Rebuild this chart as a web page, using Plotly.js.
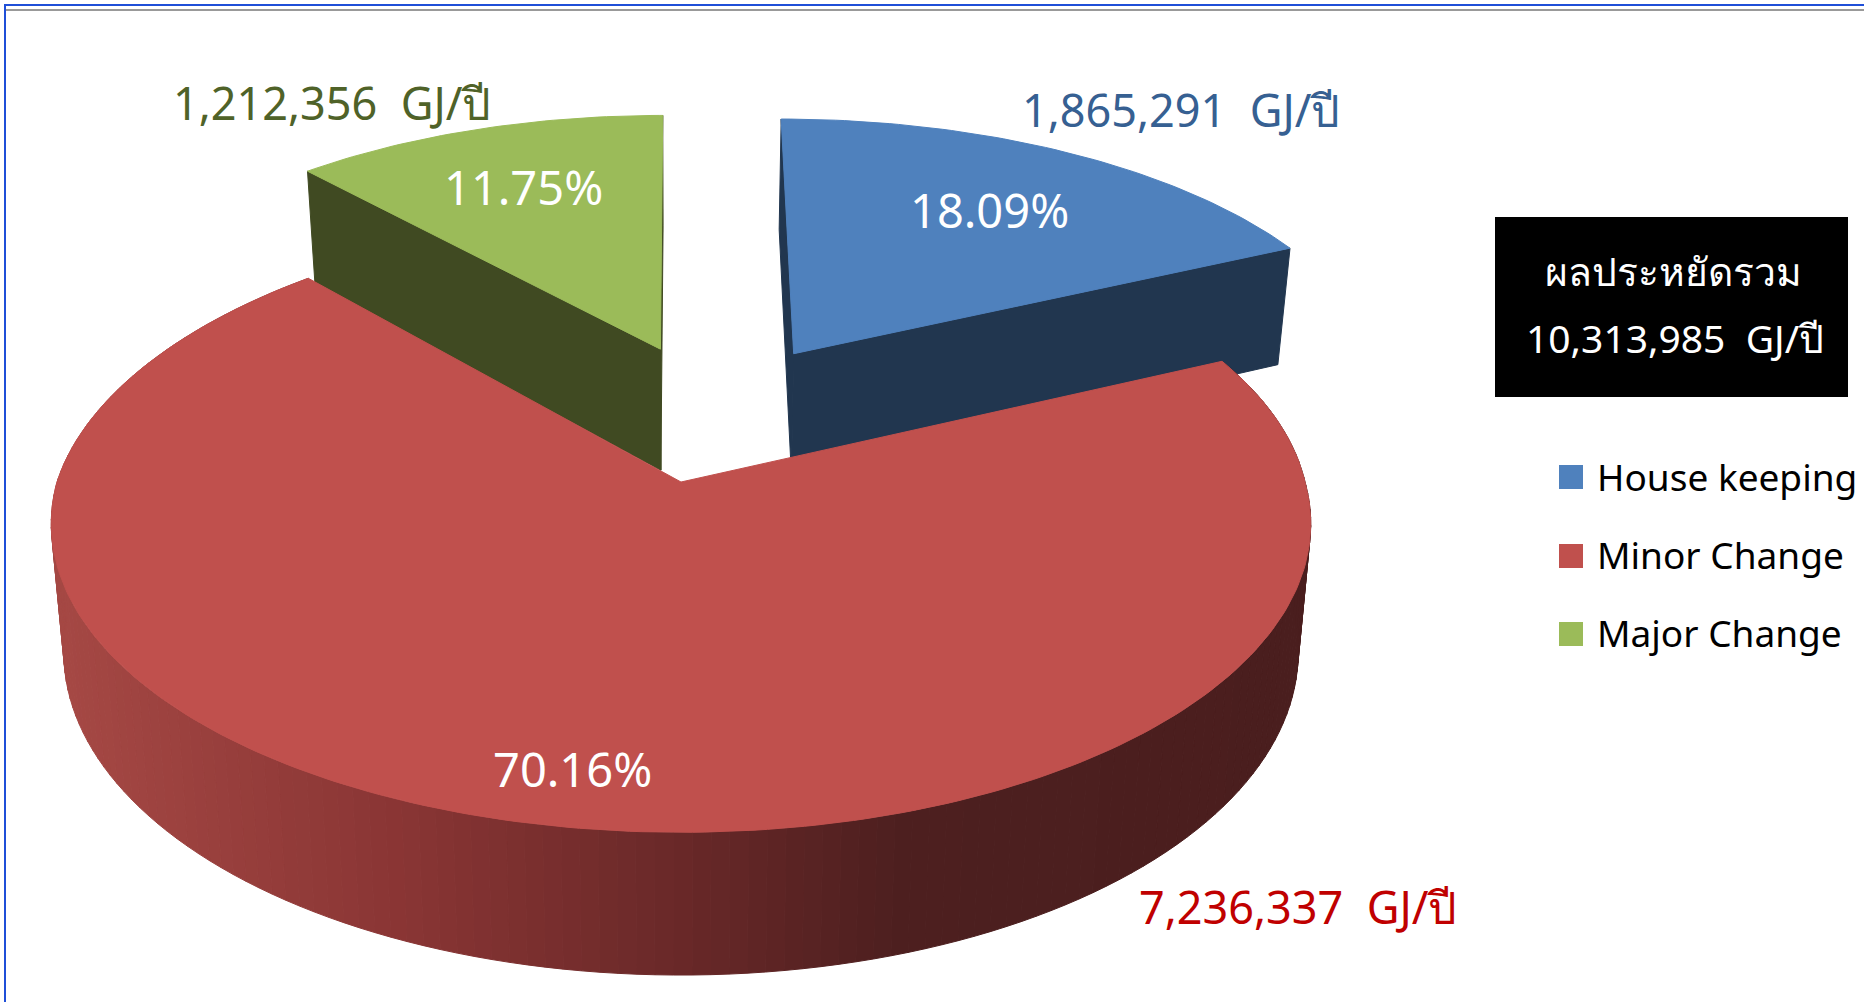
<!DOCTYPE html>
<html><head><meta charset="utf-8">
<script src="https://cdn.plot.ly/plotly-3.0.1.min.js"></script>
<style>html,body{margin:0;padding:0;background:#fff}#c{width:1864px;height:1002px}</style>
</head><body><div id="c"></div>
<script>
const categories = ['House keeping','Minor Change','Major Change'];
const values = [1865291, 7236337, 1212356];
const valueLabels = ['1,865,291\u00A0 GJ/ปี','7,236,337\u00A0 GJ/ปี','1,212,356\u00A0 GJ/ปี'];
const percentLabels = ['18.09%','70.16%','11.75%'];
const totalTitle = 'ผลประหยัดรวม';
const totalLabel = '10,313,985\u00A0 GJ/ปี';

const topColors = ['#4F81BD','#C0504D','#9BBB59'];
const faceColors = ['#21364F','#4A1E1E','#404A22'];
const labelColors = ['#366092','#C00000','#4F6228'];
const explode = [[0.1915,0.449],[0,0],[-0.035,0.466]];
const radius = [[0.99,0.98],[1,1],[0.98,0.98]];
const skew = [0,0.022,0];
const FONT = '"Noto Sans", sans-serif';

// perspective projection of the tilted pie onto the plot axes
const CX=681, CY=482, A=624, B=303, K=0.135;
function projTop(u,v){const w=1+K*v;return [CX+A*u/w, CY-B*v/w];}
function projBottom(u,v){const p=projTop(u,v);return [CX+0.98*(p[0]-CX), CY+127+1.045*(p[1]-CY)];}
function rim(i,deg,proj){
  const t=deg*Math.PI/180;
  return proj(explode[i][0]+radius[i][0]*Math.sin(t)+skew[i]*Math.max(Math.cos(t),0), explode[i][1]+radius[i][1]*Math.cos(t));
}
function apex(i,proj){return proj(explode[i][0],explode[i][1]);}

function poly(pts,color,name){
  return {type:'scatter',mode:'lines',x:pts.map(p=>p[0]),y:pts.map(p=>p[1]),fill:'toself',
    fillcolor:color,line:{color:color,width:1},hoverinfo:'skip',showlegend:false,name:name};
}
const total = values.reduce((a,b)=>a+b,0);
const spans=[]; let acc=0;
values.forEach(v=>{const s=acc/total*360; acc+=v; spans.push([s,acc/total*360]);});

function topPoly(i){
  const pts=[apex(i,projTop)];
  for(let d=spans[i][0];d<spans[i][1];d+=1) pts.push(rim(i,d,projTop));
  pts.push(rim(i,spans[i][1],projTop));
  pts.push(apex(i,projTop));
  return poly(pts,topColors[i],categories[i]);
}
function cutFace(i,deg){
  return poly([apex(i,projTop),rim(i,deg,projTop),rim(i,deg,projBottom),apex(i,projBottom),apex(i,projTop)],faceColors[i],categories[i]);
}
const shade=[[60,165,72,68],[400,137,53,52],[690,104,40,40],[900,77,31,31],[1300,74,30,30]];
function wallColor(x){
  for(let j=0;j<shade.length-1;j++){
    const a=shade[j],b=shade[j+1];
    if(x<=b[0]){
      const f=Math.max(0,(x-a[0])/(b[0]-a[0]));
      return 'rgb('+[1,2,3].map(k=>Math.round(a[k]+(b[k]-a[k])*f)).join(',')+')';
    }
  }
  return 'rgb(74,30,30)';
}
function wallSegs(i,step){
  const out=[];
  for(let d=spans[i][0];d<spans[i][1];d+=step){
    const e=Math.min(d+step,spans[i][1]);
    const a=rim(i,d,projTop),b=rim(i,e,projTop),c=rim(i,e,projBottom),f=rim(i,d,projBottom);
    out.push(poly([a,b,c,f,a],wallColor((a[0]+b[0])/2),categories[i]));
  }
  return out;
}

const traces=[
  cutFace(0,spans[0][0]),cutFace(0,spans[0][1]),topPoly(0),
  cutFace(2,spans[2][1]),cutFace(2,spans[2][0]),topPoly(2),
  ...wallSegs(1,1.5),
  topPoly(1)
];

const valuePos=[[1181,109],[1298,906],[332,102]];
const pctPos=[[989,210],[572,769],[523,187]];
const anns=[];
function note(x,y,text,color,size,anchor){
  anns.push({xref:'x',yref:'y',x:x,y:y,text:text,showarrow:false,xanchor:anchor||'center',yanchor:'middle',
    font:{family:FONT,size:size,color:color}});
}
categories.forEach((c,i)=>{
  note(valuePos[i][0],valuePos[i][1],valueLabels[i],labelColors[i],45);
  note(pctPos[i][0],pctPos[i][1],percentLabels[i],'#FFFFFF',47);
});
note(1673,270,totalTitle,'#FFFFFF',39);
note(1675,337,totalLabel,'#FFFFFF',39);

const legendY=[477,556,634];
const legendTextY=[476,554,632];
const shapes=[
  {type:'rect',xref:'x',yref:'y',x0:1495,x1:1848,y0:217,y1:397,fillcolor:'#000',line:{width:0}},
  {type:'rect',xref:'x',yref:'y',x0:6,x1:1864,y0:9,y1:11,fillcolor:'#999',line:{width:0}},
  {type:'rect',xref:'x',yref:'y',x0:4,x1:1864,y0:4,y1:6,fillcolor:'#1F4FD8',line:{width:0}},
  {type:'rect',xref:'x',yref:'y',x0:4,x1:6,y0:4,y1:1002,fillcolor:'#1F4FD8',line:{width:0}}
];
categories.forEach((c,i)=>{
  shapes.push({type:'rect',xref:'x',yref:'y',x0:1559,x1:1583,y0:legendY[i]-12,y1:legendY[i]+12,fillcolor:topColors[i],line:{width:0}});
  note(1595,legendTextY[i],c,'#000000',37,'left');
});

Plotly.newPlot('c',traces,{
  width:1864,height:1002,margin:{l:0,r:0,t:0,b:0},
  paper_bgcolor:'#fff',plot_bgcolor:'#fff',showlegend:false,
  xaxis:{range:[0,1864],visible:false,fixedrange:true},
  yaxis:{range:[1002,0],visible:false,fixedrange:true},
  shapes:shapes,annotations:anns
},{displayModeBar:false,staticPlot:true});
</script></body></html>
